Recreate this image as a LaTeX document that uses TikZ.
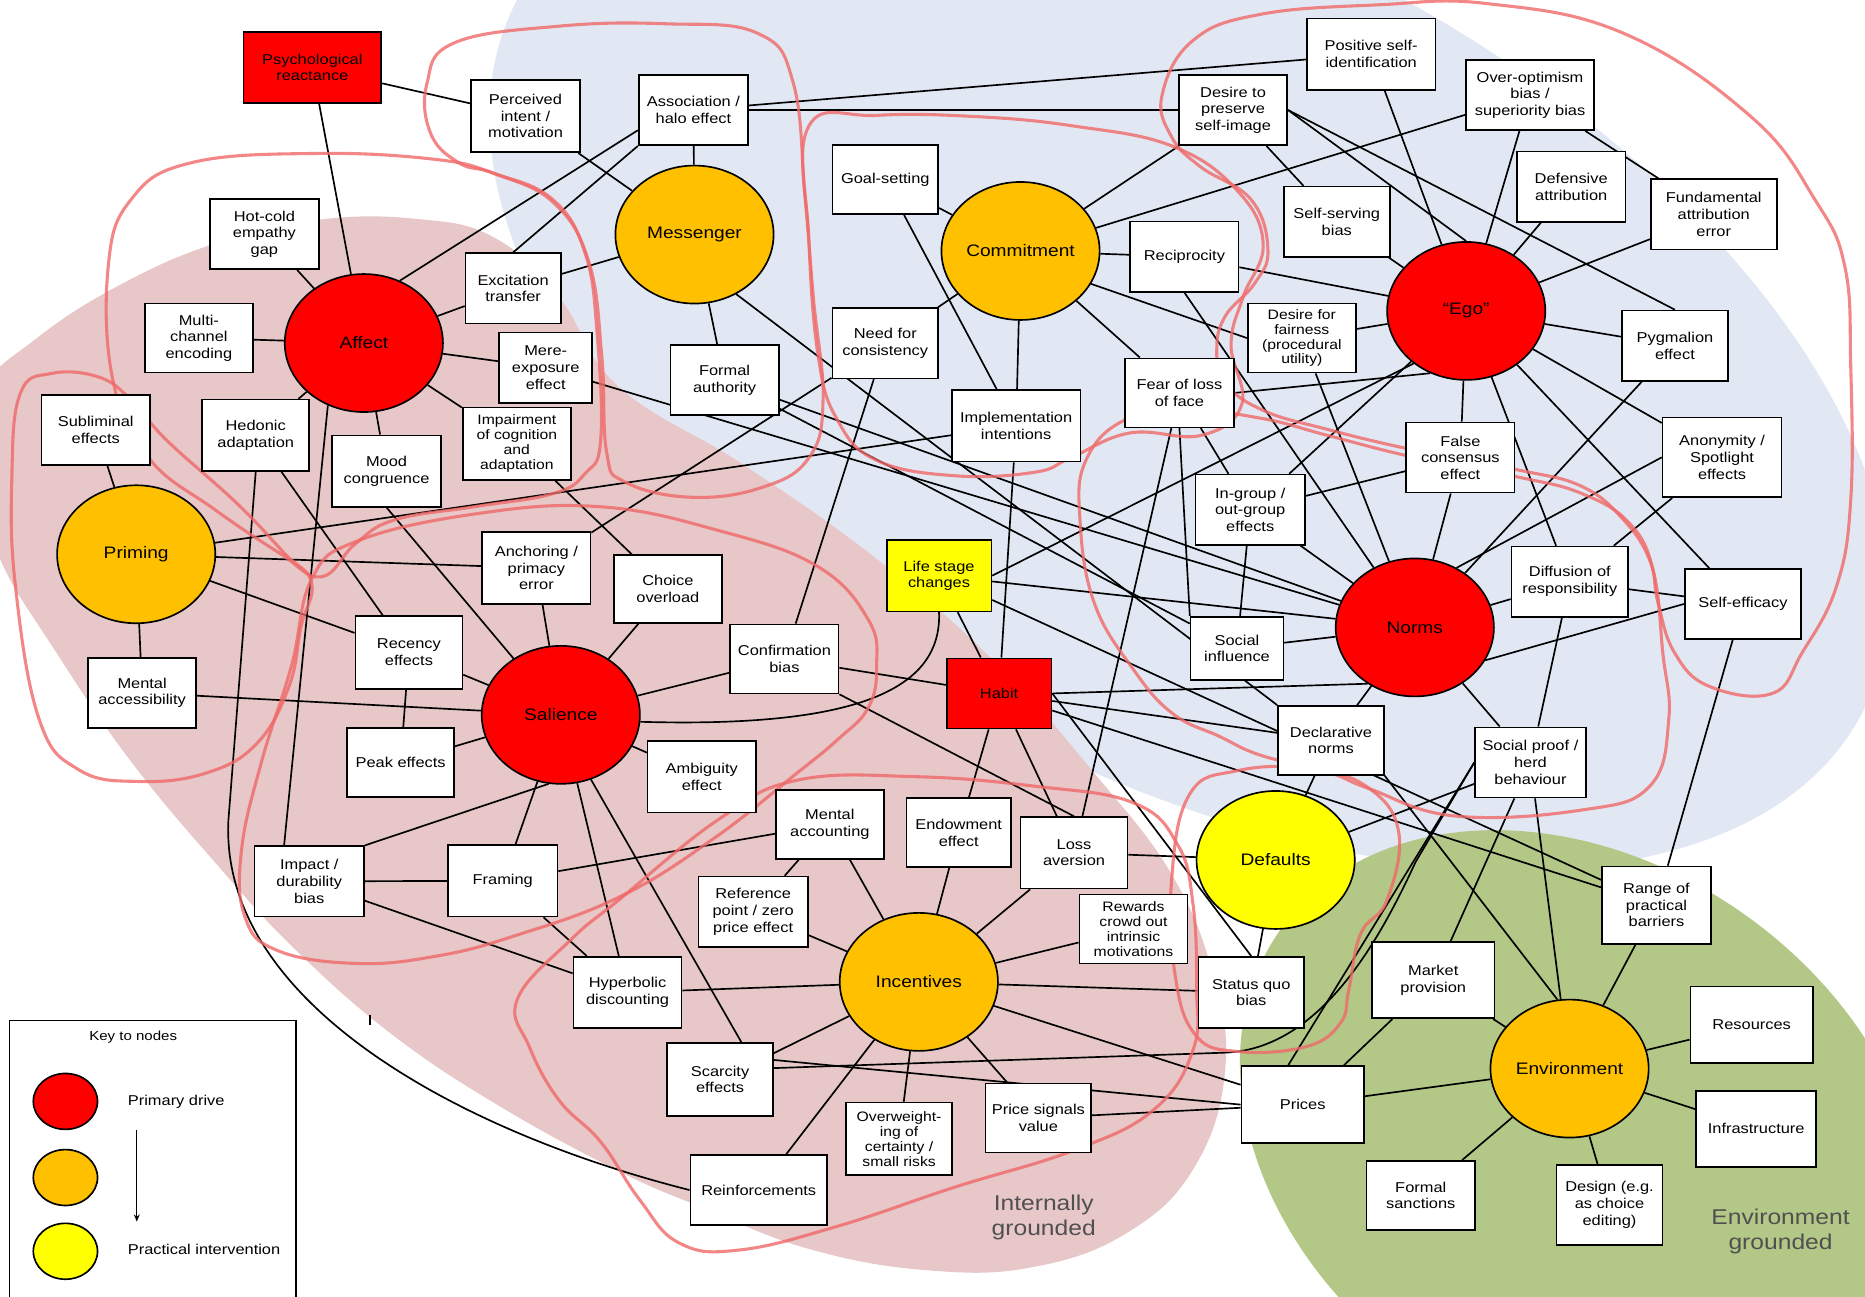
\documentclass[tikz,border=0pt]{standalone}
\usepackage{fontspec}
\setmainfont{Liberation Sans}[FakeStretch=1.15]
\usetikzlibrary{shapes.geometric,arrows.meta}
\pgfdeclarelayer{bgl}
\pgfdeclarelayer{edl}
\pgfdeclarelayer{bll}
\pgfsetlayers{bgl,edl,bll,main}
\definecolor{pinkbg}{RGB}{231,199,199}
\definecolor{bluebg}{RGB}{226,232,243}
\definecolor{greenbg}{RGB}{179,199,134}
\definecolor{blobred}{RGB}{240,105,105}
\definecolor{nred}{RGB}{255,0,0}
\definecolor{norange}{RGB}{255,192,0}
\definecolor{nyellow}{RGB}{255,255,0}
\definecolor{lbl}{RGB}{80,80,80}
\begin{document}
\begin{tikzpicture}[x=1pt,y=-1pt,
  bx/.style 2 args={draw, line width=1.4pt, fill=white, align=center, inner sep=1pt, minimum width=#1pt, minimum height=#2pt, font=\fontsize{12}{14}\selectfont},
  four/.style={font=\fontsize{11.5}{12.5}\selectfont},
  circ/.style={ellipse, draw, line width=1.4pt, minimum width=133pt, minimum height=116pt, inner sep=0pt, font=\fontsize{14}{16}\selectfont},
  ed/.style={line width=1.4pt},
  blob/.style={draw=blobred, draw opacity=0.8, line width=2.6pt},
  keyc/.style={ellipse, draw, line width=1.4pt, minimum width=54pt, minimum height=47pt, inner sep=0pt},
  grl/.style={align=center, text=lbl, font=\fontsize{18}{21}\selectfont}
]
\useasboundingbox (0,0) rectangle (1568,1090);

% ---------- nodes ----------
\node[bx={116}{60}, fill=nred] (psy) at (262.6,56.7) {Psychological\\reactance};
\node[bx={92}{61}] (perc) at (441.8,97.5) {Perceived\\intent /\\motivation};
\node[bx={92}{59}] (assoc) at (583,92.5) {Association /\\halo effect};
\node[bx={92}{59}] (hot) at (222.3,196.8) {Hot-cold\\empathy\\gap};
\node[bx={80}{59}] (exc) at (431.4,242.4) {Excitation\\transfer};
\node[bx={91}{58}] (multi) at (167.2,284.2) {Multi-\\channel\\encoding};
\node[bx={78}{59}] (mere) at (458.8,309.1) {Mere-\\exposure\\effect};
\node[bx={91}{59}] (sub) at (80.5,361.5) {Subliminal\\effects};
\node[bx={90}{60}] (hed) at (215,366) {Hedonic\\adaptation};
\node[bx={92}{60}] (mood) at (325,396) {Mood\\congruence};
\node[bx={91}{61}, four] (imp) at (434.5,373) {Impairment\\of cognition\\and\\adaptation};
\node[circ, fill=nred] (affect) at (305.9,288.4) {Affect};
\node[circ, fill=norange] (prim) at (114.5,466) {Priming};
\node[bx={91}{59}] (macc) at (119.5,582.5) {Mental\\accessibility};
\node[bx={90}{61}] (rec) at (343.8,548.5) {Recency\\effects};
\node[bx={90}{58}] (peak) at (336.8,641) {Peak effects};
\node[bx={91}{61}] (anch) at (451,477.5) {Anchoring /\\primacy\\error};
\node[circ, fill=nred] (sal) at (471.5,601) {Salience};
\node[bx={91}{57}] (cho) at (561.5,495.3) {Choice\\overload};
\node[bx={91}{58}] (conf) at (659.5,554) {Confirmation\\bias};
\node[bx={88}{60}, fill=nyellow] (life) at (789.5,484) {Life stage\\changes};
\node[bx={88}{59}, fill=nred] (habit) at (840,583) {Habit};
\node[bx={91}{60}] (amb) at (590,653) {Ambiguity\\effect};
\node[bx={91}{58}] (macct) at (697.7,693) {Mental\\accounting};
\node[bx={88}{58}] (endow) at (806,700) {Endowment\\effect};
\node[bx={90}{60}] (loss) at (903,717) {Loss\\aversion};
\node[bx={78}{53}] (socinf) at (1040,545) {Social\\influence};
\node[bx={89}{58}] (decl) at (1119,622.5) {Declarative\\norms};
\node[circ, fill=nyellow] (def) at (1072.5,723) {Defaults};
\node[bx={91}{58}, four] (rew) at (953,781) {Rewards\\crowd out\\intrinsic\\motivations};
\node[bx={89}{60}] (sq) at (1052,834.5) {Status quo\\bias};
\node[circ, fill=norange] (inc) at (772.5,825.5) {Incentives};
\node[bx={103}{64}] (mkt) at (1205,824) {Market\\provision};
\node[bx={92}{65}] (range) at (1392.7,761) {Range of\\practical\\barriers};
\node[bx={103}{64}] (res) at (1472.7,861.5) {Resources};
\node[bx={101}{64}] (infra) at (1476.5,949) {Infrastructure};
\node[circ, fill=norange] (env) at (1319.6,898.4) {Environment};
\node[bx={103}{65}] (prices) at (1095.2,928.7) {Prices};
\node[bx={91}{58}] (fsanc) at (1194.5,1005) {Formal\\sanctions};
\node[bx={89}{67}] (design) at (1353.2,1013) {Design (e.g.\\as choice\\editing)};
\node[bx={92}{59}] (ref) at (633.2,766.5) {Reference\\point / zero\\price effect};
\node[bx={91}{60}] (hyp) at (527.6,834.4) {Hyperbolic\\discounting};
\node[bx={89}{61}] (scar) at (605.4,907.6) {Scarcity\\effects};
\node[bx={89}{61}, four] (over) at (755.9,957.5) {Overweight-\\ing of\\certainty /\\small risks};
\node[bx={89}{58}] (psig) at (873,940) {Price signals\\value};
\node[bx={115}{59}] (reinf) at (637.9,1000.5) {Reinforcements};
\node[bx={92}{59}] (impact) at (260,741) {Impact /\\durability\\bias};
\node[bx={92}{60}] (fram) at (422.7,740.5) {Framing};
\node[circ, fill=norange] (mess) at (583.9,197.2) {Messenger};
\node[bx={89}{58}] (goal) at (744.3,151) {Goal-setting};
\node[circ, fill=norange] (commit) at (858,211) {Commitment};
\node[bx={91}{59}] (recip) at (995.8,215.8) {Reciprocity};
\node[bx={89}{59}] (need) at (744.3,288.6) {Need for\\consistency};
\node[bx={91}{59}] (fauth) at (609.2,319.5) {Formal\\authority};
\node[bx={108}{60}] (impl) at (854.3,358) {Implementation\\intentions};
\node[bx={92}{58}] (fear) at (991.6,330.3) {Fear of loss\\of face};
\node[bx={91}{59}] (desire) at (1036.7,92.5) {Desire to\\preserve\\self-image};
\node[bx={108}{60}] (pos) at (1152.8,45.5) {Positive self-\\identification};
\node[bx={108}{59}] (opt) at (1286.4,79.9) {Over-optimism\\bias /\\superiority bias};
\node[bx={91}{59}] (defa) at (1321,157) {Defensive\\attribution};
\node[bx={106}{59}] (fae) at (1440.8,180.2) {Fundamental\\attribution\\error};
\node[bx={89}{59}] (ssb) at (1123.9,186.4) {Self-serving\\bias};
\node[circ, fill=nred] (ego) at (1232.7,261.4) {“Ego”};
\node[bx={89}{59}] (pyg) at (1408.2,290.6) {Pygmalion\\effect};
\node[bx={91}{58}, four] (fair) at (1094.5,284.2) {Desire for\\fairness\\(procedural\\utility)};
\node[bx={91}{59}] (fcons) at (1227.8,384.7) {False\\consensus\\effect};
\node[bx={100}{67}] (anon) at (1447.8,384.5) {Anonymity /\\Spotlight\\effects};
\node[bx={92}{59}] (ing) at (1051.1,428.5) {In-group /\\out-group\\effects};
\node[circ, fill=nred] (norms) at (1189.5,527.5) {Norms};
\node[bx={98}{59}] (diff) at (1319.8,489) {Diffusion of\\responsibility};
\node[bx={98}{59}] (seff) at (1465.4,507.8) {Self-efficacy};
\node[bx={93}{59}] (sproof) at (1286.7,641) {Social proof /\\herd\\behaviour};

% labels
\node[grl] (intg) at (877.5,1023.5) {Internally\\grounded};
\node[grl] (envg) at (1497,1035) {Environment\\grounded};

% legend
\draw[line width=1.4pt] (8,858) rectangle (249,1100);
\node[font=\fontsize{11}{13}\selectfont] (keyt) at (112,872) {Key to nodes};
\node[keyc, fill=nred] (k1) at (55,926) {};
\node[keyc, fill=norange] (k2) at (55,990) {};
\node[keyc, fill=nyellow] (k3) at (55,1052) {};
\node[anchor=west, font=\fontsize{12}{14}\selectfont] (k1t) at (104,926) {Primary drive};
\node[anchor=west, font=\fontsize{12}{14}\selectfont] (k3t) at (104,1050) {Practical intervention};
\coordinate (ka) at (115,950);
\coordinate (kb) at (115,1027);
\draw[-{Stealth[length=6pt,width=5pt]}, line width=1.1pt] (ka) -- (kb);
\coordinate (tk1) at (311,853);
\coordinate (tk2) at (311,862);
\draw[line width=1.1pt] (tk1) -- (tk2);

% ---------- backgrounds ----------
\begin{pgfonlayer}{bgl}
\fill[bluebg, rotate around={-28:(1000,300)}] (1000,300) ellipse [x radius=640pt, y radius=350pt];
\fill[pinkbg] plot[smooth cycle, tension=0.7] coordinates {(-15,330) (30,285) (100,240) (180,205) (266,185) (350,184) (416,200) (470,250) (520,325) (627,392) (741,473) (840,560) (920,650) (985,735) (1020,820) (1030,900) (1005,980) (950,1035) (870,1065) (780,1068) (680,1050) (590,1015) (521,985) (420,930) (330,870) (250,800) (186,731) (110,640) (45,545) (0,470) (-20,400)};
\fill[greenbg, rotate around={-35:(1330,960)}] (1330,960) ellipse [x radius=310pt, y radius=235pt];
\end{pgfonlayer}

% ---------- connectors ----------
\begin{pgfonlayer}{edl}
\foreach \a/\b in {psy/perc, psy/affect, perc/mess, assoc/mess, assoc.200/affect.60, assoc.south west/exc.north, assoc/desire, assoc/pos,
 hot/affect, multi/affect, exc/affect, exc/mess, mere/affect, imp/affect, mood/affect, hed/affect, affect.240/impact.125, hed/rec, mood.south/sal.130, imp/cho,
 prim/sub, prim/macc, prim/rec, prim/anch, prim/impl, macc/sal, rec/sal, anch/sal, cho/sal, conf/sal, peak/sal, amb/sal, fram/sal, impact.north east/sal.260, hyp/sal, sal.-65/scar.60, rec/peak, anch/need, fram/macct,
 fauth/mess, goal/commit, goal/impl, need/commit, impl/commit, recip/commit, desire/commit, opt/commit, commit.-25/fair.west, commit/fear, need/conf, impl/habit,
 recip/ego, recip.south/norms, fear/ing, desire.east/ego.north, desire.east/pyg.north, desire/ssb, pos/ego, opt/ego, opt/fae, defa/ego, fae/ego, ssb/ego, fair/ego, pyg/ego, fcons/ego, ego.225/life.east, ego/ing, fear.east/ego.240, ego/diff, ego/anon, ego/seff, pyg/norms, fair/norms, fear/loss, fear.south/socinf.north west,
 ing/norms, ing/socinf, ing/fcons, fcons/norms, anon.west/norms.55, anon/diff, diff/norms, diff/seff, diff/sproof, seff.west/norms.-25, seff/range, norms/socinf, norms/decl, norms/sproof, habit.east/norms.230, mess.-55/decl.north west, fauth/norms, fauth/socinf, mere/norms, life/norms, life/habit, life/range, conf/habit, habit/endow, habit/loss, habit/decl, habit/range, habit.east/sq.north, conf.south east/loss.north,
 endow/inc, loss/inc, loss/def, macct/inc, ref/inc, ref/macct, rew/inc, hyp/inc, hyp/fram, hyp/impact, impact/fram, inc/sq, inc/prices, scar/inc, scar.20/prices.west, over/inc, psig/inc, psig/prices, reinf/inc,
 def/sq, decl/def, decl.south east/env.100, def/sproof, sproof/mkt, sproof/env, prices.110/sproof.west, mkt/env, mkt/prices, range/env, res/env, infra/env, design/env, fsanc/env, prices/env}
  \draw[ed] (\a) -- (\b);
\draw[ed] (hed.south) -- (192,690) .. controls (185,840) and (380,950) .. (reinf.west);
\draw[ed] (life.south) .. controls (792,580) and (720,612) .. (sal.-5);
\draw[ed] (scar.12) -- (1030,885) .. controls (1110,882) and (1160,790) .. (1190,725) -- (sproof.west);
\end{pgfonlayer}

% ---------- red groupings ----------
\begin{pgfonlayer}{bll}
\draw[blob] plot[smooth cycle, tension=0.7] coordinates {(17,331) (43,314) (83,317) (110,336) (140,370) (199,423) (239,465) (262,490) (253,527) (243,577) (216,625) (173,650) (116,657) (66,647) (33,605) (13,493) (10,400)};
\draw[blob] plot[smooth cycle, tension=0.7] coordinates {(91,224) (110,168) (160,137) (266,129) (366,134) (416,146) (465,168) (492,213) (502,280) (505,370) (492,398) (465,415) (399,426) (332,437) (299,457) (270,485) (235,465) (180,428) (125,385) (95,320)};
\draw[blob] plot[smooth cycle, tension=0.7] coordinates {(262,487) (300,455) (400,432) (504,426) (604,446) (687,476) (730,521) (737,560) (730,595) (704,622) (670,650) (600,705) (521,754) (432,787) (366,804) (299,810) (233,799) (206,771) (203,715) (220,640) (245,560)};
\draw[blob] plot[smooth cycle, tension=0.7] coordinates {(382,36) (470,22) (560,20) (637,28) (667,70) (677,168) (684,252) (692,336) (680,385) (640,410) (580,418) (525,405) (510,380) (506,300) (495,220) (465,170) (416,146) (386,137) (362,112) (359,70)};
\draw[blob] plot[smooth cycle, tension=0.7] coordinates {(680,106) (737,97) (820,98) (903,106) (986,123) (1040,160) (1062,205) (1045,250) (1035,290) (1044,340) (1010,366) (950,364) (900,385) (870,397) (803,400) (737,387) (704,353) (688,300) (680,200)};
\draw[blob] plot[smooth cycle, tension=0.7] coordinates {(1003,34) (1060,12) (1160,4) (1250,3) (1365,28) (1472,98) (1526,168) (1551,224) (1556,308) (1556,420) (1544,493) (1515,549) (1490,583) (1437,577) (1408,549) (1394,507) (1387,471) (1365,437) (1330,409) (1276,395) (1187,378) (1116,361) (1062,345) (1030,322) (1023,294) (1030,266) (1055,238) (1066,210) (1052,168) (1009,140) (985,115) (977,80)};
\draw[blob] plot[smooth cycle, tension=0.7] coordinates {(946,353) (1000,345) (1062,352) (1116,366) (1187,384) (1276,401) (1330,415) (1370,440) (1390,480) (1398,549) (1403,605) (1387,661) (1330,681) (1223,686) (1151,663) (1116,649) (1060,635) (1025,619) (986,600) (953,563) (920,507) (908,437) (913,387)};
\draw[blob] plot[smooth cycle, tension=0.7] coordinates {(1000,668) (1040,648) (1100,646) (1150,662) (1176,700) (1166,757) (1144,785) (1134,832) (1127,860) (1098,880) (1040,884) (1005,870) (988,820) (985,740)};
\draw[blob] plot[smooth cycle, tension=0.7] coordinates {(435,840) (480,790) (521,756) (604,689) (670,656) (770,653) (870,661) (953,675) (990,710) (1003,760) (1006,830) (1003,883) (970,933) (903,967) (803,998) (704,1031) (621,1051) (571,1045) (538,1009) (505,960) (470,925) (445,880)};
\end{pgfonlayer}
\end{tikzpicture}
\end{document}
